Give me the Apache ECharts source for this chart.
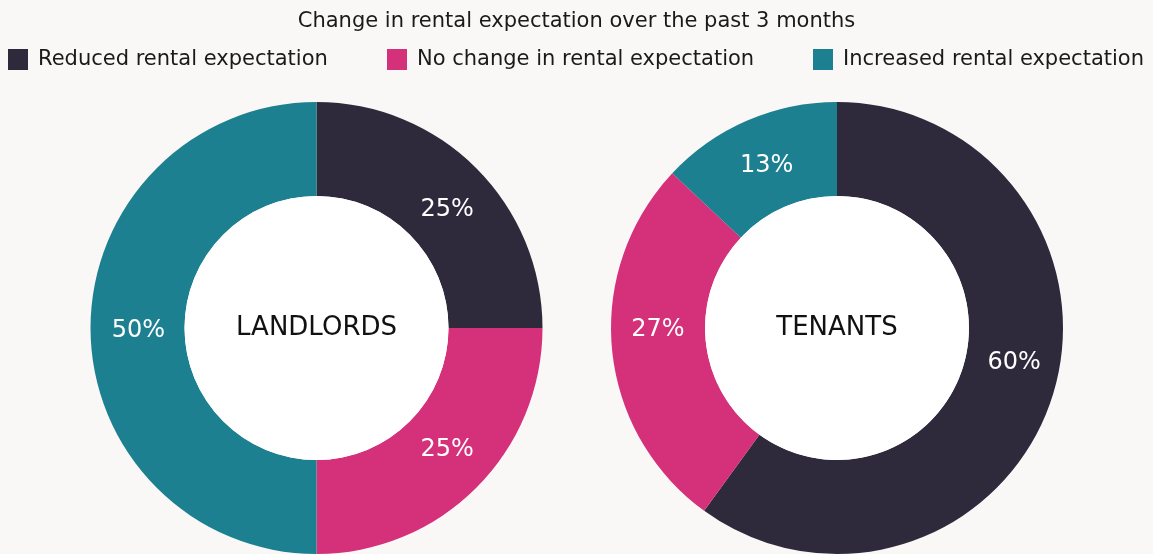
<!DOCTYPE html>
<html>
<head>
<meta charset="utf-8">
<script src="https://cdn.jsdelivr.net/npm/echarts@6/dist/echarts.min.js"></script>
<style>
  html, body { margin: 0; padding: 0; background: #f9f8f6; }
  #chart { width: 1153px; height: 554px; }
</style>
</head>
<body>
<div id="chart"></div>
<script>
const categories = ['Reduced rental expectation', 'No change in rental expectation', 'Increased rental expectation'];
const groups = ['LANDLORDS', 'TENANTS'];
const landlordValues = [25, 25, 50];
const tenantValues = [60, 27, 13];
const colors = ['#2e2a3c', '#d5307a', '#1d8091'];

const font = 'DejaVu Sans';

// nudges so the labels sit where the original put them
function ring(values, center, nudges) {
    return {
        type: 'pie',
        radius: [132, 226],
        center: center,
        startAngle: 90,
        clockwise: true,
        silent: true,
        itemStyle: { borderWidth: 0 },
        label: {
            show: true,
            position: 'inside',
            formatter: '{c}%',
            color: '#ffffff',
            fontFamily: font,
            fontSize: 24
        },
        labelLine: { show: false },
        emphasis: { disabled: true },
        data: categories.map((c, i) => ({
            name: c,
            value: values[i],
            itemStyle: { color: colors[i] },
            label: { offset: nudges[i] }
        }))
    }
}

// white disc in the hole with the group name
function disc(name, center) {
    return {
        type: 'pie',
        radius: [0, 132],
        center: center,
        silent: true,
        itemStyle: { color: '#ffffff', borderWidth: 0 },
        label: {
            show: true,
            position: 'center',
            formatter: '{b}',
            color: '#111111',
            fontFamily: font,
            fontSize: 26
        },
        labelLine: { show: false },
        emphasis: { disabled: true },
        data: [{ name: name, value: 1 }]
    }
}

function legendAt(name, left) {
    return {
        data: [name],
        left: left,
        top: 44,
        icon: 'rect',
        itemWidth: 20,
        itemHeight: 21,
        selectedMode: false,
        textStyle: {
            fontFamily: font,
            fontSize: 21,
            color: '#1a1a1a',
            padding: [2, 0, 0, 5]
        }
    }
}

const chart = echarts.init(document.getElementById('chart'));
chart.setOption({
    backgroundColor: '#f9f8f6',
    animation: false,
    title: {
        text: 'Change in rental expectation over the past 3 months',
        left: 'center',
        top: 6,
        textStyle: {
            fontFamily: font,
            fontSize: 21,
            fontWeight: 'normal',
            color: '#1a1a1a'
        }
    },
    legend: [
        legendAt(categories[0], 3),
        legendAt(categories[1], 382),
        legendAt(categories[2], 808)
    ],
    series: [
        ring(landlordValues, [316.5, 328], [[2, 10], [2, -7], [4, 3]]),
        disc(groups[0], [316.5, 328]),
        ring(tenantValues, [837, 328], [[4, -21], [2, -15], [2, 5]]),
        disc(groups[1], [837, 328])
    ]
});
</script>
</body>
</html>
